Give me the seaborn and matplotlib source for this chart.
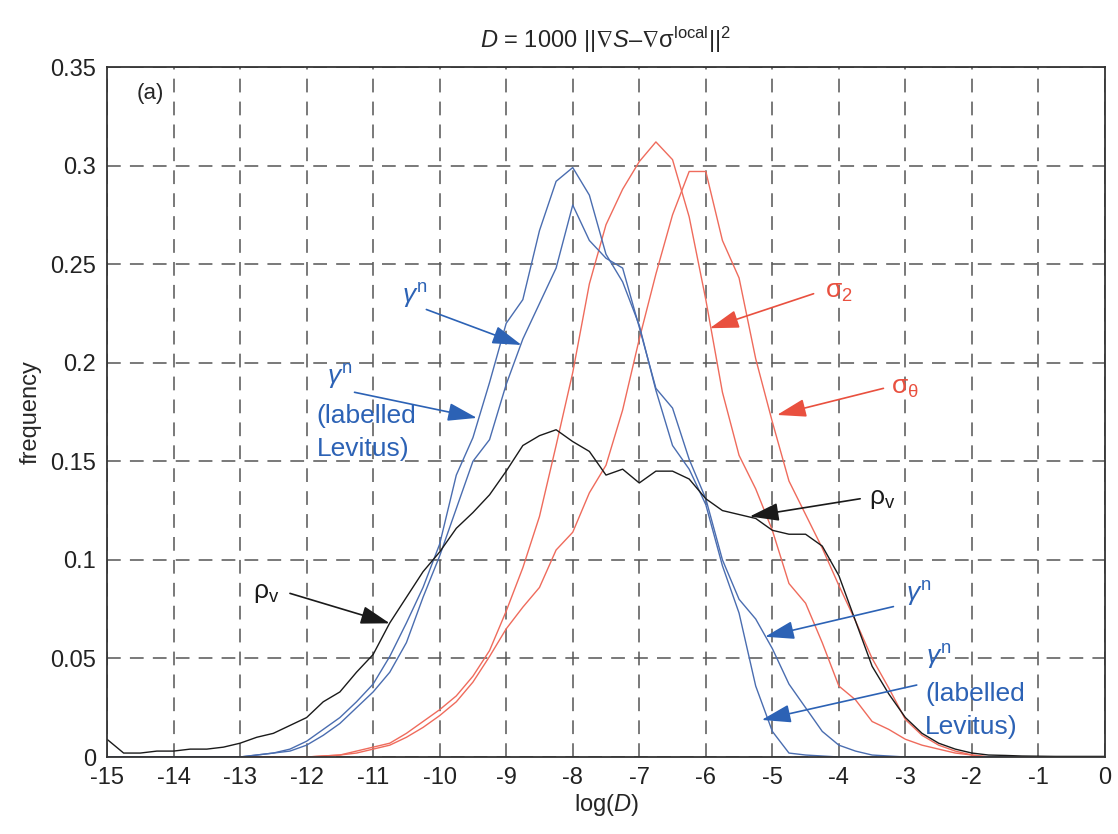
import numpy as np
import pandas as pd
import matplotlib
matplotlib.use("Agg")
import matplotlib.pyplot as plt
import seaborn as sns
from matplotlib import font_manager
from matplotlib.ticker import FuncFormatter

# ---------------- data ----------------
log_d = [-15.0, -14.75, -14.5, -14.25, -14.0, -13.75, -13.5, -13.25, -13.0, -12.75,
         -12.5, -12.25, -12.0, -11.75, -11.5, -11.25, -11.0, -10.75, -10.5, -10.25,
         -10.0, -9.75, -9.5, -9.25, -9.0, -8.75, -8.5, -8.25, -8.0, -7.75,
         -7.5, -7.25, -7.0, -6.75, -6.5, -6.25, -6.0, -5.75, -5.5, -5.25,
         -5.0, -4.75, -4.5, -4.25, -4.0, -3.75, -3.5, -3.25, -3.0, -2.75,
         -2.5, -2.25, -2.0, -1.75, -1.5, -1.25, -1.0, -0.75, -0.5, -0.25, 0.0]

rho_v = [0.009, 0.002, 0.002, 0.003, 0.003, 0.004, 0.004, 0.005, 0.007, 0.010,
         0.012, 0.016, 0.020, 0.028, 0.033, 0.043, 0.052, 0.068, 0.081, 0.094,
         0.104, 0.116, 0.124, 0.133, 0.145, 0.158, 0.163, 0.166, 0.160, 0.155,
         0.143, 0.146, 0.139, 0.145, 0.145, 0.141, 0.131, 0.125, 0.123, 0.121,
         0.115, 0.113, 0.113, 0.107, 0.092, 0.069, 0.046, 0.032, 0.020, 0.012,
         0.007, 0.004, 0.002, 0.001, 0.0008, 0.0005, 0.0004, 0.0003, 0.0003, 0.0003, 0.0003]

gamma_n_levitus = [0, 0, 0, 0, 0, 0, 0, 0, 0, 0.001,
                   0.002, 0.004, 0.008, 0.014, 0.020, 0.028, 0.037, 0.051, 0.068, 0.086,
                   0.108, 0.143, 0.162, 0.190, 0.220, 0.232, 0.267, 0.292, 0.299, 0.285,
                   0.255, 0.241, 0.219, 0.186, 0.158, 0.146, 0.128, 0.097, 0.073, 0.036,
                   0.013, 0.002, 0.001, 0.0005, 0, 0, 0, 0, 0, 0,
                   0, 0, 0, 0, 0, 0, 0, 0, 0, 0, 0]

gamma_n = [0, 0, 0, 0, 0, 0, 0, 0, 0, 0.001,
           0.002, 0.003, 0.006, 0.011, 0.017, 0.025, 0.033, 0.043, 0.058, 0.081,
           0.102, 0.126, 0.150, 0.161, 0.189, 0.212, 0.230, 0.248, 0.280, 0.262,
           0.253, 0.248, 0.218, 0.187, 0.177, 0.151, 0.131, 0.100, 0.080, 0.070,
           0.055, 0.037, 0.025, 0.013, 0.006, 0.003, 0.001, 0.0005, 0, 0,
           0, 0, 0, 0, 0, 0, 0, 0, 0, 0, 0]

sigma_2 = [0, 0, 0, 0, 0, 0, 0, 0, 0, 0,
           0, 0, 0, 0.0005, 0.001, 0.003, 0.005, 0.007, 0.012, 0.018,
           0.024, 0.031, 0.041, 0.054, 0.074, 0.096, 0.122, 0.158, 0.195, 0.240,
           0.270, 0.288, 0.302, 0.312, 0.303, 0.274, 0.232, 0.185, 0.153, 0.136,
           0.115, 0.088, 0.078, 0.058, 0.036, 0.029, 0.018, 0.014, 0.009, 0.006,
           0.004, 0.002, 0.001, 0, 0, 0, 0, 0, 0, 0, 0]

sigma_theta = [0, 0, 0, 0, 0, 0, 0, 0, 0, 0,
               0, 0, 0, 0.0005, 0.001, 0.002, 0.004, 0.006, 0.010, 0.015,
               0.021, 0.028, 0.038, 0.051, 0.065, 0.076, 0.086, 0.105, 0.114, 0.134,
               0.148, 0.176, 0.212, 0.245, 0.275, 0.297, 0.297, 0.262, 0.243, 0.202,
               0.170, 0.140, 0.123, 0.106, 0.087, 0.069, 0.050, 0.035, 0.019, 0.011,
               0.006, 0.003, 0.001, 0, 0, 0, 0, 0, 0, 0, 0]

x_ticks = [-15, -14, -13, -12, -11, -10, -9, -8, -7, -6, -5, -4, -3, -2, -1, 0]
y_ticks = [0, 0.05, 0.1, 0.15, 0.2, 0.25, 0.3, 0.35]

# ---------------- style ----------------
sns.set_style("white")
names = {f.name for f in font_manager.fontManager.ttflist}
if "Liberation Sans Narrow" in names:
    FONT = "Liberation Sans Narrow"
    FS = 20
    AFS = 22
else:
    FONT = "Liberation Sans"
    FS = 17
    AFS = 19
plt.rcParams["font.family"] = [FONT, "DejaVu Sans"]
plt.rcParams["mathtext.fontset"] = "custom"
plt.rcParams["mathtext.rm"] = FONT
plt.rcParams["mathtext.it"] = FONT + ":italic"
plt.rcParams["mathtext.sf"] = FONT
plt.rcParams["mathtext.fallback"] = "stixsans"
plt.rcParams["axes.unicode_minus"] = False

BLUE_LINE = "#4a6db0"
BLUE_TXT = "#2c62b5"
RED_LINE = "#ef6b5c"
RED_TXT = "#e9503f"
BLACK = "#1a1a1a"

series = {
    "rho_v": rho_v,
    "gamma_n_levitus": gamma_n_levitus,
    "gamma_n": gamma_n,
    "sigma_2": sigma_2,
    "sigma_theta": sigma_theta,
}
frames = []
for k, v in series.items():
    frames.append(pd.DataFrame({"logD": log_d, "freq": v, "name": k}))
df = pd.concat(frames, ignore_index=True)
palette = {"rho_v": BLACK, "gamma_n_levitus": BLUE_LINE, "gamma_n": BLUE_LINE,
           "sigma_2": RED_LINE, "sigma_theta": RED_LINE}

fig = plt.figure(figsize=(11.18, 8.34), dpi=100)
ax = fig.add_axes([107 / 1118, 1 - 757 / 834, (1105 - 107) / 1118, (757 - 67) / 834])

sns.lineplot(data=df, x="logD", y="freq", hue="name", palette=palette,
             estimator=None, legend=False, linewidth=1.0, ax=ax,
             hue_order=["sigma_2", "sigma_theta", "gamma_n_levitus", "gamma_n", "rho_v"])

ax.set_xlim(-15, 0)
ax.set_ylim(0, 0.35)
ax.set_xticks(x_ticks)
ax.set_yticks(y_ticks)
ax.yaxis.set_major_formatter(FuncFormatter(lambda v, p: "%g" % v))
ax.xaxis.set_major_formatter(FuncFormatter(lambda v, p: "%g" % v))
ax.tick_params(labelsize=FS, direction="in", length=5, colors="#222222")
ax.tick_params(axis="x", pad=7)
ax.tick_params(axis="y", pad=8)
ax.grid(True, color="#555555", linestyle=(0, (9, 6)), linewidth=1.1)
for s in ax.spines.values():
    s.set_color("#333333")
    s.set_linewidth(1.3)

ax.set_xlabel(r"log($\mathit{D}$)", fontsize=FS, labelpad=2)
ax.set_ylabel("frequency", fontsize=FS, labelpad=6)
ax.set_title(r"$\mathit{D}$ = 1000 ||$\nabla\mathit{S}$–$\nabla$σ$^{\mathrm{local}}$||$^2$",
             fontsize=FS, pad=14)
ax.text(-14.55, 0.342, "(a)", fontsize=FS - 1, va="top", ha="left")

def arrow(text, xy, xytext, color, tcolor, tx=None, ty=None, ha="center"):
    ax.annotate("", xy=xy, xytext=xytext,
                arrowprops=dict(arrowstyle="-|>,head_length=0.9,head_width=0.28",
                                color=color, lw=1.2, shrinkA=0, shrinkB=0,
                                mutation_scale=20))
    if text:
        ax.text(tx, ty, text, color=tcolor, fontsize=AFS, ha=ha, va="center")

GN = r"$\gamma^{\mathrm{n}}$"
# left gamma^n
arrow(GN, (-8.77, 0.209), (-10.2, 0.227), BLUE_TXT, BLUE_TXT, -10.38, 0.234)
# left gamma^n (labelled Levitus)
arrow(None, (-9.44, 0.172), (-11.28, 0.185), BLUE_TXT, BLUE_TXT)
ax.text(-11.5, 0.193, GN, color=BLUE_TXT, fontsize=AFS, ha="center", va="center")
ax.text(-11.85, 0.173, "(labelled", color=BLUE_TXT, fontsize=AFS, ha="left", va="center")
ax.text(-11.85, 0.156, "Levitus)", color=BLUE_TXT, fontsize=AFS, ha="left", va="center")
# sigma_2
arrow(r"$\mathrm{σ}_{2}$", (-5.94, 0.2175), (-4.38, 0.235), RED_TXT, RED_TXT, -4.0, 0.236)
# sigma_theta
arrow(r"$\mathrm{σ}_{\mathrm{θ}}$", (-4.93, 0.1735), (-3.33, 0.187), RED_TXT, RED_TXT, -3.0, 0.187)
# rho_v right
arrow(r"$\mathrm{ρ}_{\mathrm{v}}$", (-5.34, 0.122), (-3.68, 0.131), BLACK, BLACK, -3.35, 0.131)
# rho_v left
arrow(r"$\mathrm{ρ}_{\mathrm{v}}$", (-10.75, 0.0678), (-12.25, 0.083), BLACK, BLACK, -12.6, 0.083)
# gamma^n right
arrow(GN, (-5.11, 0.061), (-3.18, 0.0763), BLUE_TXT, BLUE_TXT, -2.8, 0.083)
# gamma^n (labelled Levitus) right
arrow(None, (-5.16, 0.0188), (-2.83, 0.0365), BLUE_TXT, BLUE_TXT)
ax.text(-2.5, 0.051, GN, color=BLUE_TXT, fontsize=AFS, ha="center", va="center")
ax.text(-2.7, 0.032, "(labelled", color=BLUE_TXT, fontsize=AFS, ha="left", va="center")
ax.text(-2.7, 0.015, "Levitus)", color=BLUE_TXT, fontsize=AFS, ha="left", va="center")

fig.savefig("out.png", dpi=100)
